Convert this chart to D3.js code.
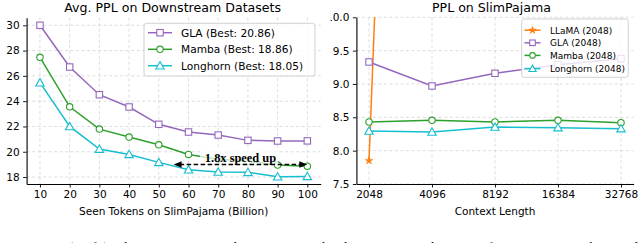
<!DOCTYPE html>
<html><head><meta charset="utf-8">
<script src="https://cdn.jsdelivr.net/npm/d3@7"></script>
<style>
html,body{margin:0;padding:0;background:#fff;}
svg{display:block;font-family:"DejaVu Sans",sans-serif;}
</style></head>
<body>
<svg id="chart" width="640" height="243"></svg>
<script>
// ---------- data: left chart ----------
const tokens = [10, 20, 30, 40, 50, 60, 70, 80, 90, 100];
const leftYTicks = [18, 20, 22, 24, 26, 28, 30];
const glaDown = [30.0, 26.70, 24.51, 23.54, 22.17, 21.56, 21.32, 20.90, 20.85, 20.86];
const mambaDown = [27.47, 23.55, 21.79, 21.16, 20.55, 19.79, 19.40, 19.24, 18.95, 18.86];
const longhornDown = [25.46, 22.00, 20.21, 19.79, 19.16, 18.58, 18.40, 18.37, 18.02, 18.05];
const leftLegend = ["GLA (Best: 20.86)", "Mamba (Best: 18.86)", "Longhorn (Best: 18.05)"];
const speedArrow = [55, 100];   // x range of the arrow (billion tokens)
const speedArrowY = 18.99;
const speedText = "1.8x speed up";

// ---------- data: right chart ----------
const ctxLengths = ["2048", "4096", "8192", "16384", "32768"];
const rightYTicks = [7.5, 8.0, 8.5, 9.0, 9.5, 10.0];
const llamaSP = [7.85, 32.0, null, null, null];
const glaSP = [9.33, 8.97, 9.16, 9.29, 9.38];
const mambaSP = [8.43, 8.455, 8.43, 8.455, 8.42];
const longhornSP = [8.295, 8.28, 8.355, 8.345, 8.33];
const rightLegend = ["LLaMA (2048)", "GLA (2048)", "Mamba (2048)", "Longhorn (2048)"];

const caption = "Figure 4: (Left) The average perplexity on eight downstream datasets for GLA, Mamba, and";

// ---------- styles ----------
const C = {gla: "#9467bd", mamba: "#2ca02c", longhorn: "#17becf", llama: "#ff7f0e"};
const gridColor = "#d4d4d4";

const svg = d3.select("#chart");
const defs = svg.append("defs");

function marker(g, type, x, y, color, size) {
  size = size || 6.4;
  if (type === "square") {
    g.append("rect").attr("x", x - size/2).attr("y", y - size/2).attr("width", size).attr("height", size)
      .attr("fill", "#fff").attr("stroke", color).attr("stroke-width", 1.1);
  } else if (type === "circle") {
    g.append("circle").attr("cx", x).attr("cy", y).attr("r", size/2)
      .attr("fill", "#fff").attr("stroke", color).attr("stroke-width", 1.1);
  } else if (type === "triangle") {
    const s = d3.symbol().type(d3.symbolTriangle).size(size*size*0.75);
    g.append("path").attr("d", s()).attr("transform", `translate(${x},${y + 0.8})`)
      .attr("fill", "#fff").attr("stroke", color).attr("stroke-width", 1.1);
  } else if (type === "star") {
    const s = d3.symbol().type(d3.symbolStar).size(size*size*0.7);
    g.append("path").attr("d", s()).attr("transform", `translate(${x},${y})`)
      .attr("fill", color).attr("stroke", color).attr("stroke-width", 0.5);
  }
}

// =============== LEFT CHART ===============
(function(){
  const x = d3.scaleLinear().domain([5.5, 104.5]).range([26.6, 320.7]);
  const y = d3.scaleLinear().domain([17.45, 30.6]).range([184, 17.7]);
  const g = svg.append("g");
  const [x0, x1] = x.range(), [yb, yt] = y.range();

  // grid
  g.append("g").selectAll("line").data(tokens).join("line")
    .attr("x1", d => x(d)).attr("x2", d => x(d)).attr("y1", yt).attr("y2", yb)
    .attr("stroke", gridColor).attr("stroke-width", 0.8).attr("stroke-dasharray", "3,2.5");
  g.append("g").selectAll("line").data(leftYTicks).join("line")
    .attr("x1", x0).attr("x2", x1).attr("y1", d => y(d)).attr("y2", d => y(d))
    .attr("stroke", gridColor).attr("stroke-width", 0.8).attr("stroke-dasharray", "3,2.5");

  // axes
  const xa = g.append("g").attr("transform", `translate(0,${yb})`)
    .call(d3.axisBottom(x).tickValues(tokens).tickSize(3.5).tickPadding(3.5).tickSizeOuter(0));
  const ya = g.append("g").attr("transform", `translate(${x0},0)`)
    .call(d3.axisLeft(y).tickValues(leftYTicks).tickSize(3.5).tickPadding(3.5).tickSizeOuter(0));
  [xa, ya].forEach(a => {
    a.select(".domain").attr("stroke", "#000").attr("stroke-width", 1.1);
    a.selectAll(".tick line").attr("stroke", "#000").attr("stroke-width", 0.9);
    a.selectAll("text").attr("font-family", "DejaVu Sans").attr("font-size", 10.5).attr("fill", "#000");
  });

  // series
  const series = [
    {v: glaDown, c: C.gla, m: "square"},
    {v: mambaDown, c: C.mamba, m: "circle"},
    {v: longhornDown, c: C.longhorn, m: "triangle"}
  ];
  const line = d3.line().x((d, i) => x(tokens[i])).y(d => y(d));
  series.forEach(s => {
    g.append("path").datum(s.v).attr("d", line).attr("fill", "none")
      .attr("stroke", s.c).attr("stroke-width", 1.5);
    const mg = g.append("g");
    s.v.forEach((d, i) => marker(mg, s.m, x(tokens[i]), y(d), s.c));
  });

  // speed-up annotation text with semi-transparent white box
  const tx = 240.5, ty = y(19.55);
  g.append("rect").attr("x", 200).attr("y", ty - 9).attr("width", 78).attr("height", 17)
    .attr("fill", "#fff").attr("fill-opacity", 0.72);
  g.append("text").attr("x", tx).attr("y", ty + 4.3).attr("text-anchor", "middle")
    .attr("font-family", "Liberation Serif, Times New Roman, serif").attr("font-weight", "bold")
    .attr("font-size", 12.4).attr("fill", "#000").text(speedText);

  // double arrow
  const ay = y(speedArrowY), ax0 = x(speedArrow[0]), ax1 = x(speedArrow[1]);
  g.append("line").attr("x1", ax0 + 6).attr("x2", ax1 - 6).attr("y1", ay).attr("y2", ay)
    .attr("stroke", "#000").attr("stroke-width", 1.5).attr("stroke-dasharray", "4.5,2.5");
  g.append("path").attr("d", `M${ax0},${ay} L${ax0+8},${ay-3.2} L${ax0+8},${ay+3.2} Z`).attr("fill", "#000");
  g.append("path").attr("d", `M${ax1},${ay} L${ax1-8},${ay-3.2} L${ax1-8},${ay+3.2} Z`).attr("fill", "#000");

  // legend
  const lg = g.append("g");
  lg.append("rect").attr("x", 144).attr("y", 23.3).attr("width", 171).attr("height", 52.7)
    .attr("rx", 2.5).attr("fill", "#fff").attr("fill-opacity", 0.8)
    .attr("stroke", "#cccccc").attr("stroke-width", 0.9);
  const ly = [32.7, 49.3, 65.7];
  series.forEach((s, i) => {
    lg.append("line").attr("x1", 148).attr("x2", 172).attr("y1", ly[i]).attr("y2", ly[i])
      .attr("stroke", s.c).attr("stroke-width", 1.5);
    marker(lg, s.m, 160, ly[i], s.c);
    lg.append("text").attr("x", 181).attr("y", ly[i] + 3.8).attr("font-size", 10.6)
      .attr("fill", "#000").text(leftLegend[i]);
  });

  // titles
  g.append("text").attr("x", (x0 + x1) / 2 - 1).attr("y", 12).attr("text-anchor", "middle")
    .attr("font-size", 12.6).attr("fill", "#000").text("Avg. PPL on Downstream Datasets");
  g.append("text").attr("x", (x0 + x1) / 2).attr("y", 215).attr("text-anchor", "middle")
    .attr("font-size", 10.5).attr("fill", "#000").text("Seen Tokens on SlimPajama (Billion)");
})();

// =============== RIGHT CHART ===============
(function(){
  const xi = d3.scaleLinear().domain([-0.2, 4.2]).range([356.4, 633.6]);
  const y = d3.scaleLinear().domain([7.5, 10.0]).range([184, 17.3]);
  const x = d => xi(ctxLengths.indexOf(d));
  const g = svg.append("g");
  const [x0, x1] = xi.range(), [yb, yt] = y.range();

  defs.append("clipPath").attr("id", "rplot").append("rect")
    .attr("x", x0).attr("y", yt).attr("width", x1 - x0).attr("height", yb - yt);
  const labClip = defs.append("clipPath").attr("id", "rlab").append("rect")
    .attr("x", 325.5).attr("y", 0).attr("width", 320).attr("height", 243);

  // grid
  g.append("g").selectAll("line").data(ctxLengths).join("line")
    .attr("x1", d => x(d)).attr("x2", d => x(d)).attr("y1", yt).attr("y2", yb)
    .attr("stroke", gridColor).attr("stroke-width", 0.8).attr("stroke-dasharray", "3,2.5");
  g.append("g").selectAll("line").data(rightYTicks).join("line")
    .attr("x1", x0).attr("x2", x1).attr("y1", d => y(d)).attr("y2", d => y(d))
    .attr("stroke", gridColor).attr("stroke-width", 0.8).attr("stroke-dasharray", "3,2.5");

  // axes
  const xa = g.append("g").attr("transform", `translate(0,${yb})`)
    .call(d3.axisBottom(xi).tickValues(d3.range(ctxLengths.length)).tickFormat(i => ctxLengths[i])
      .tickSize(3.5).tickPadding(3.5).tickSizeOuter(0));
  const yaWrap = g.append("g").attr("clip-path", "url(#rlab)");
  const ya = yaWrap.append("g").attr("transform", `translate(${x0},0)`)
    .call(d3.axisLeft(y).tickValues(rightYTicks).tickFormat(d3.format(".1f")).tickSize(3.5).tickPadding(3.5).tickSizeOuter(0));
  [xa, ya].forEach(a => {
    a.select(".domain").attr("stroke", "#000").attr("stroke-width", 1.1);
    a.selectAll(".tick line").attr("stroke", "#000").attr("stroke-width", 0.9);
    a.selectAll("text").attr("font-family", "DejaVu Sans").attr("font-size", 10.5).attr("fill", "#000");
  });
  // the reference crops the leading "1" of the top label: clip just inside it
  const topLab = ya.selectAll(".tick text").filter(d => d === 10.0).node();
  if (topLab) {
    const bb = topLab.getBBox();
    labClip.attr("x", x0 + bb.x + bb.width * 0.2);
  }

  const series = [
    {v: llamaSP, c: C.llama, m: "star"},
    {v: glaSP, c: C.gla, m: "square"},
    {v: mambaSP, c: C.mamba, m: "circle"},
    {v: longhornSP, c: C.longhorn, m: "triangle"}
  ];
  const pg = g.append("g").attr("clip-path", "url(#rplot)");
  const line = d3.line().defined(d => d != null).x((d, i) => xi(i)).y(d => y(d));
  series.forEach(s => {
    pg.append("path").datum(s.v).attr("d", line).attr("fill", "none")
      .attr("stroke", s.c).attr("stroke-width", 1.5);
  });
  series.forEach(s => {
    const mg = pg.append("g");
    s.v.forEach((d, i) => { if (d != null) marker(mg, s.m, xi(i), y(d), s.c, s.m === "star" ? 5.2 : 6.4); });
  });

  // legend
  const lg = g.append("g");
  lg.append("rect").attr("x", 521.7).attr("y", 19).attr("width", 106.6).attr("height", 58.3)
    .attr("rx", 2.5).attr("fill", "#fff").attr("fill-opacity", 0.8)
    .attr("stroke", "#cccccc").attr("stroke-width", 0.9);
  const ly = [30.2, 42.8, 55.4, 68.6];
  series.forEach((s, i) => {
    lg.append("line").attr("x1", 524.5).attr("x2", 540.5).attr("y1", ly[i]).attr("y2", ly[i])
      .attr("stroke", s.c).attr("stroke-width", 1.5);
    marker(lg, s.m, 532.5, ly[i], s.c, s.m === "star" ? 5 : 5.6);
    lg.append("text").attr("x", 550).attr("y", ly[i] + 3.3).attr("font-size", 9)
      .attr("fill", "#000").text(rightLegend[i]);
  });

  g.append("text").attr("x", 491.5).attr("y", 12).attr("text-anchor", "middle")
    .attr("font-size", 12.6).attr("fill", "#000").text("PPL on SlimPajama");
  g.append("text").attr("x", 495).attr("y", 215).attr("text-anchor", "middle")
    .attr("font-size", 10.5).attr("fill", "#000").text("Context Length");
})();

// caption (mostly cut off at the bottom, as in the reference)
svg.append("text").attr("x", 0).attr("y", 250.5).attr("font-family", "Liberation Serif, serif")
  .attr("font-size", 13.5).attr("fill", "#000").attr("textLength", 638).attr("lengthAdjust", "spacing")
  .text(caption);
</script>
</body></html>
